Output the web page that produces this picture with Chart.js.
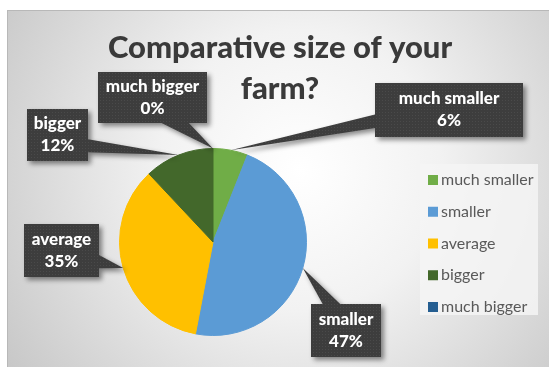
<!DOCTYPE html>
<html>
<head>
<meta charset="utf-8">
<script src="https://cdn.jsdelivr.net/npm/chart.js@4/dist/chart.umd.min.js"></script>
<style>
    html, body { margin: 0; padding: 0; background: #fff; }
    canvas { display: block; }
</style>
</head>
<body>
<canvas id="chart" width="549" height="367"></canvas>
<script>
const titleLines = ["Comparative size of your", "farm?"];
const categories = ["much smaller", "smaller", "average", "bigger", "much bigger"];
const shares = [6, 47, 35, 12, 0];
const sliceColors = ["#70AD47", "#5B9BD5", "#FFC000", "#43682B", "#255E91"];

// where the data label boxes were dragged to (x, y, w, h)
const labelBoxes = [
    [375, 83, 148, 54],
    [311, 304, 70, 53],
    [24, 224, 75, 53],
    [27, 109, 61, 52],
    [98, 72, 109, 51]
];

const FONT = "Lato, 'Open Sans', sans-serif";
const frame = { left: 7, top: 10, right: 549, bottom: 367 };
const legendBox = { x: 420, y: 164, w: 118, h: 151, first: 180, step: 31.75 };

function dotPattern(ctx) {
    const c = document.createElement("canvas");
    c.width = 3;
    c.height = 3;
    const p = c.getContext("2d");
    p.fillStyle = "#3d3d3d";
    p.fillRect(0, 0, 3, 3);
    p.fillStyle = "#4a4a4a";
    p.fillRect(1, 1, 1, 1);
    return ctx.createPattern(c, "repeat");
}

// rectangle with a wedge pointing at (tx, ty), like the Office wedgeRectCallout
function calloutPath(ctx, x, y, w, h, tx, ty) {
    const dx = (tx - (x + w / 2)) / w;
    const dy = (ty - (y + h / 2)) / h;
    const side = Math.abs(dx) > Math.abs(dy);
    const pos = side ? dy > 0 : dx > 0;
    const f1 = pos ? 7 / 12 : 2 / 12;
    const f2 = pos ? 10 / 12 : 5 / 12;

    ctx.beginPath();
    ctx.moveTo(x, y);
    if (!side && dy < 0) {
        ctx.lineTo(x + w * f1, y);
        ctx.lineTo(tx, ty);
        ctx.lineTo(x + w * f2, y);
    }
    ctx.lineTo(x + w, y);
    if (side && dx > 0) {
        ctx.lineTo(x + w, y + h * f1);
        ctx.lineTo(tx, ty);
        ctx.lineTo(x + w, y + h * f2);
    }
    ctx.lineTo(x + w, y + h);
    if (!side && dy > 0) {
        ctx.lineTo(x + w * f2, y + h);
        ctx.lineTo(tx, ty);
        ctx.lineTo(x + w * f1, y + h);
    }
    ctx.lineTo(x, y + h);
    if (side && dx < 0) {
        ctx.lineTo(x, y + h * f2);
        ctx.lineTo(tx, ty);
        ctx.lineTo(x, y + h * f1);
    }
    ctx.closePath();
}

const backdrop = {
    id: "backdrop",
    beforeDraw(chart) {
        const ctx = chart.ctx;
        ctx.save();
        ctx.fillStyle = "#fff";
        ctx.fillRect(0, 0, chart.width, chart.height);
        const g = ctx.createRadialGradient(300, 170, 0, 300, 170, 350);
        g.addColorStop(0, "#ffffff");
        g.addColorStop(0.4, "#f2f2f2");
        g.addColorStop(1, "#c8c8c8");
        ctx.fillStyle = g;
        ctx.fillRect(frame.left, frame.top, frame.right - frame.left, frame.bottom - frame.top);
        ctx.strokeStyle = "#b8b8b8";
        ctx.lineWidth = 1;
        ctx.strokeRect(frame.left + 0.5, frame.top + 0.5, frame.right - frame.left, frame.bottom - frame.top);

        ctx.fillStyle = "#3a3a3a";
        ctx.font = "900 31px " + FONT;
        ctx.textAlign = "center";
        ctx.textBaseline = "alphabetic";
        ctx.fillText(titleLines[0], 280, 58);
        ctx.fillText(titleLines[1], 280, 99);
        ctx.restore();
    }
};

const overlay = {
    id: "overlay",
    afterDraw(chart) {
        const ctx = chart.ctx;
        const arcs = chart.getDatasetMeta(0).data;
        const values = chart.data.datasets[0].data;
        const total = values.reduce((a, b) => a + b, 0);

        // legend
        ctx.save();
        ctx.fillStyle = "rgba(244,244,244,0.85)";
        ctx.fillRect(legendBox.x, legendBox.y, legendBox.w, legendBox.h);
        ctx.font = "16px " + FONT;
        ctx.textAlign = "left";
        ctx.textBaseline = "middle";
        chart.data.labels.forEach((label, i) => {
            const yy = legendBox.first + i * legendBox.step;
            ctx.fillStyle = chart.data.datasets[0].backgroundColor[i];
            ctx.fillRect(legendBox.x + 8, yy - 5, 10, 10);
            ctx.fillStyle = "#595959";
            ctx.fillText(label, legendBox.x + 21, yy);
        });
        ctx.restore();

        // data label callouts
        const fill = dotPattern(ctx);
        arcs.forEach((arc, i) => {
            const { x, y, startAngle, endAngle, outerRadius } = arc.getProps(["x", "y", "startAngle", "endAngle", "outerRadius"], true);
            const mid = (startAngle + endAngle) / 2;
            const tx = x + Math.cos(mid) * outerRadius;
            const ty = y + Math.sin(mid) * outerRadius;
            const [bx, by, bw, bh] = labelBoxes[i];

            ctx.save();
            ctx.shadowColor = "rgba(0,0,0,0.45)";
            ctx.shadowBlur = 5;
            ctx.shadowOffsetX = 3;
            ctx.shadowOffsetY = 3;
            ctx.fillStyle = fill;
            calloutPath(ctx, bx, by, bw, bh, tx, ty);
            ctx.fill();
            ctx.restore();

            ctx.save();
            ctx.fillStyle = "#fff";
            ctx.font = "900 17px " + FONT;
            ctx.textAlign = "center";
            ctx.textBaseline = "middle";
            const pct = Math.round(values[i] / total * 100) + "%";
            ctx.fillText(chart.data.labels[i], bx + bw / 2, by + bh / 2 - 11);
            ctx.fillText(pct, bx + bw / 2, by + bh / 2 + 11);
            ctx.restore();
        });
    }
};

new Chart(document.getElementById("chart"), {
    type: "pie",
    data: {
        labels: categories,
        datasets: [{
            data: shares,
            backgroundColor: sliceColors,
            borderColor: sliceColors,
            borderWidth: 1
        }]
    },
    options: {
        responsive: false,
        animation: false,
        devicePixelRatio: 1,
        layout: {
            padding: { left: 119, right: 242, top: 148, bottom: 31 }
        },
        plugins: {
            legend: { display: false },
            title: { display: false },
            tooltip: { enabled: false }
        }
    },
    plugins: [backdrop, overlay]
});
</script>
</body>
</html>
